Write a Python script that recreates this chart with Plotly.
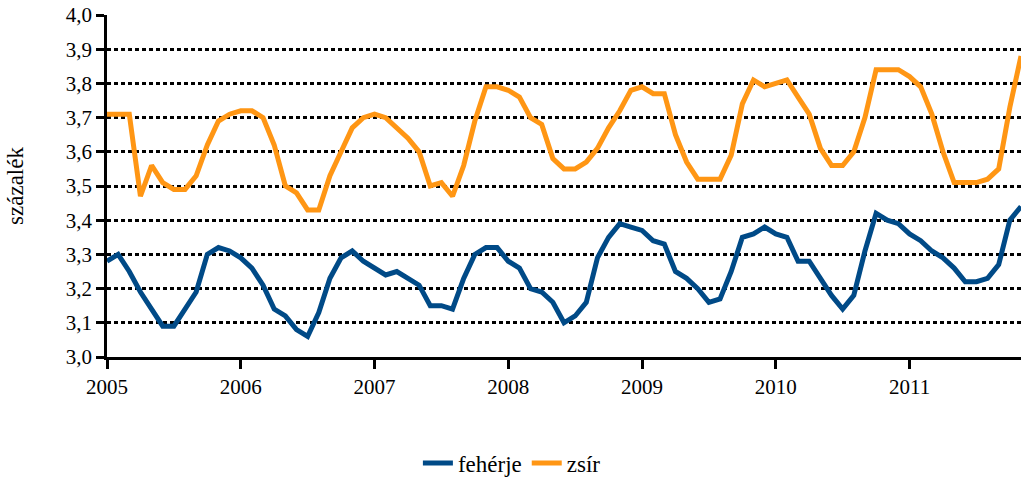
import plotly.graph_objects as go

# monthly values, 2005-01 .. 2011-11
feherje = [3.28, 3.30, 3.25, 3.19, 3.14, 3.09, 3.09, 3.14, 3.19, 3.30,
           3.32, 3.31, 3.29, 3.26, 3.21, 3.14, 3.12, 3.08, 3.06, 3.13,
           3.23, 3.29, 3.31, 3.28, 3.26, 3.24, 3.25, 3.23, 3.21, 3.15,
           3.15, 3.14, 3.23, 3.30, 3.32, 3.32, 3.28, 3.26, 3.20, 3.19,
           3.16, 3.10, 3.12, 3.16, 3.29, 3.35, 3.39, 3.38, 3.37, 3.34,
           3.33, 3.25, 3.23, 3.20, 3.16, 3.17, 3.25, 3.35, 3.36, 3.38,
           3.36, 3.35, 3.28, 3.28, 3.23, 3.18, 3.14, 3.18, 3.31, 3.42,
           3.40, 3.39, 3.36, 3.34, 3.31, 3.29, 3.26, 3.22, 3.22, 3.23,
           3.27, 3.40, 3.44]
zsir = [3.71, 3.71, 3.71, 3.47, 3.56, 3.51, 3.49, 3.49, 3.53, 3.62,
        3.69, 3.71, 3.72, 3.72, 3.70, 3.62, 3.50, 3.48, 3.43, 3.43,
        3.53, 3.60, 3.67, 3.70, 3.71, 3.70, 3.67, 3.64, 3.60, 3.50,
        3.51, 3.47, 3.56, 3.69, 3.79, 3.79, 3.78, 3.76, 3.70, 3.68,
        3.58, 3.55, 3.55, 3.57, 3.61, 3.67, 3.72, 3.78, 3.79, 3.77,
        3.77, 3.65, 3.57, 3.52, 3.52, 3.52, 3.59, 3.74, 3.81, 3.79,
        3.80, 3.81, 3.76, 3.71, 3.61, 3.56, 3.56, 3.60, 3.70, 3.84,
        3.84, 3.84, 3.82, 3.79, 3.71, 3.60, 3.51, 3.51, 3.51, 3.52,
        3.55, 3.73, 3.88]
months = list(range(len(zsir)))

year_labels = ["2005", "2006", "2007", "2008", "2009", "2010", "2011"]
year_pos = [12 * i for i in range(len(year_labels))]
y_vals = [3.0, 3.1, 3.2, 3.3, 3.4, 3.5, 3.6, 3.7, 3.8, 3.9, 4.0]
y_text = ["3,0", "3,1", "3,2", "3,3", "3,4", "3,5", "3,6", "3,7", "3,8", "3,9", "4,0"]

serif = "Liberation Serif, DejaVu Serif, serif"
txt = dict(family=serif, size=21, color="black")
txt_big = dict(family=serif, size=23, color="black")

fig = go.Figure()
fig.add_trace(go.Scatter(x=months, y=feherje, mode="lines", name="fehérje",
                         line=dict(color="#004A87", width=5)))
fig.add_trace(go.Scatter(x=months, y=zsir, mode="lines", name="zsír",
                         line=dict(color="#FF9614", width=5)))

fig.update_layout(
    width=1022, height=486,
    margin=dict(l=107, r=1, t=15, b=125),
    plot_bgcolor="white", paper_bgcolor="white",
    font=txt,
    legend=dict(orientation="h", x=0.443, xanchor="center", y=-0.31, yanchor="middle",
                font=txt_big),
)
fig.update_xaxes(range=[0, 82], tickvals=year_pos, ticktext=year_labels, automargin=False,
                 tickfont=txt,
                 showgrid=False, zeroline=False, showline=True, linecolor="black",
                 linewidth=2.5, ticks="outside", ticklen=9, tickwidth=2.5, tickcolor="black")
fig.update_yaxes(range=[3.0, 4.0], tickvals=y_vals, ticktext=y_text, automargin=False,
                 tickfont=txt,
                 showgrid=True, gridcolor="black", gridwidth=2.5, griddash="4px,3px",
                 zeroline=False, showline=True, linecolor="black", linewidth=2.5,
                 ticks="outside", ticklen=8, tickwidth=2.5, tickcolor="black",
                 title=dict(text="százalék", standoff=36, font=txt_big))

# page has a default 8px body margin, drop it so the figure sits at 0,0
fig.write_html("out.html", config={"displayModeBar": False},
               post_script="document.body.style.margin='0';")
